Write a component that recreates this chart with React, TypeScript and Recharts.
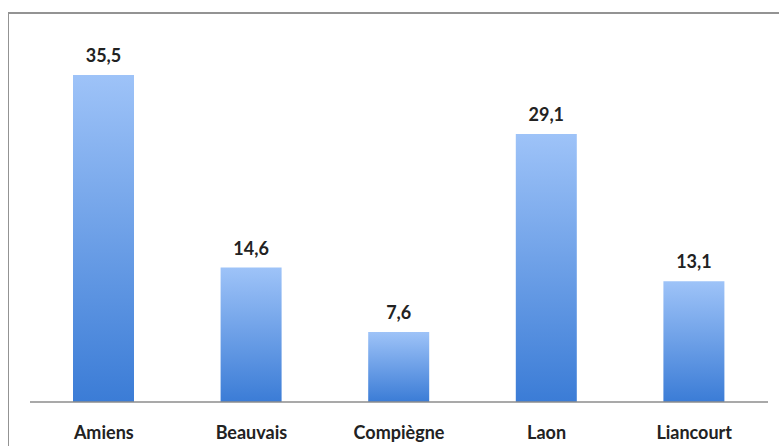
import { BarChart, Bar, XAxis, YAxis, LabelList } from "recharts";

const villes = ["Amiens", "Beauvais", "Compiègne", "Laon", "Liancourt"];
const valeurs = [35.5, 14.6, 7.6, 29.1, 13.1];

const data = villes.map((ville, i) => ({ ville, valeur: valeurs[i] }));

const fmt = (v: number) => v.toFixed(1).replace(".", ",");

export default function App() {
  return (
    <div style={{ position: "absolute", left: 0, top: 0, width: 779, height: 446, background: "#fff", overflow: "hidden" }}>
      <div
        style={{
          position: "absolute",
          left: 8,
          top: 12,
          width: 800,
          height: 460,
          borderTop: "2px solid #939393",
          borderLeft: "1.5px solid #939393",
        }}
      />
      <div style={{ position: "absolute", left: 0, top: 0 }}>
        <BarChart width={779} height={446} data={data} margin={{ top: 33.6, right: 11, left: 30, bottom: 0 }}>
          <defs>
            <linearGradient id="barGrad" x1="0" y1="0" x2="0" y2="1">
              <stop offset="0%" stopColor="#9ec3f8" />
              <stop offset="100%" stopColor="#3b7cd6" />
            </linearGradient>
          </defs>
          <XAxis
            dataKey="ville"
            height={44}
            axisLine={{ stroke: "#8c8c8c", strokeWidth: 1.5 }}
            tickLine={false}
            tickMargin={18}
            tick={{ fill: "#222", fontSize: 18, fontWeight: 700, fontFamily: "Lato" }}
            interval={0}
          />
          <YAxis hide domain={[0, 40]} />
          <Bar dataKey="valeur" fill="url(#barGrad)" barSize={61} isAnimationActive={false}>
            <LabelList
              dataKey="valeur"
              position="top"
              offset={13}
              formatter={(v: number) => fmt(v)}
              style={{ fill: "#222", fontSize: 18, fontWeight: 700, fontFamily: "Lato" }}
            />
          </Bar>
        </BarChart>
      </div>
    </div>
  );
}
